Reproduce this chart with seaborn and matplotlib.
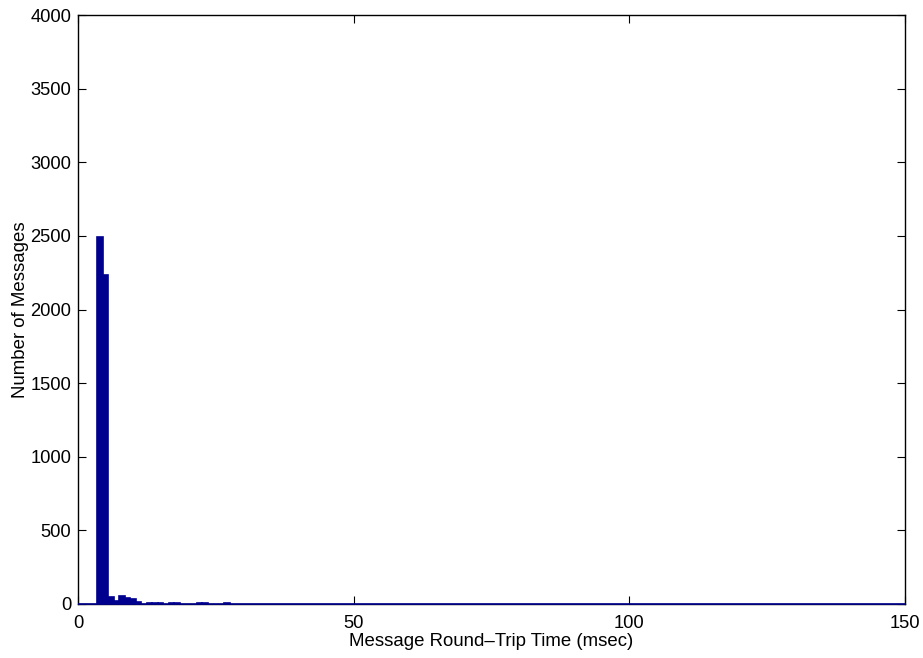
import numpy as np
import pandas as pd
import matplotlib
matplotlib.use("Agg")
import matplotlib.pyplot as plt
from matplotlib.transforms import Bbox, TransformedBbox
import seaborn as sns

# Histogram: bin centres (msec) and message counts
bin_centers = list(range(0, 151))
nonzero_bins = [4, 5, 6, 7, 8, 9, 10, 11, 12, 13, 14, 15, 16, 17, 18, 19, 20,
                21, 22, 23, 24, 25, 26, 27, 28, 30, 33, 36, 40, 45]
nonzero_counts = [2490, 2235, 45, 22, 54, 40, 36, 14, 3, 5, 5, 4, 3, 8, 10, 3, 2,
                  3, 8, 8, 2, 2, 2, 5, 2, 1, 1, 1, 1, 1]

x_ticks = [0, 50, 100, 150]
y_ticks = list(range(0, 4001, 500))

counts = dict(zip(nonzero_bins, nonzero_counts))
hist_df = pd.DataFrame({
    "rtt": bin_centers,
    "count": [counts.get(b, 0) for b in bin_centers],
})

sns.set_style("white")
plt.rcParams["font.family"] = ["Liberation Sans", "DejaVu Sans"]
plt.rcParams["text.color"] = "black"
plt.rcParams["axes.labelcolor"] = "black"
plt.rcParams["xtick.color"] = "black"
plt.rcParams["ytick.color"] = "black"

fig = plt.figure(figsize=(9.23, 6.58), dpi=100)
ax = fig.add_axes([0.0845, 0.0821, 0.896, 0.895])

sns.histplot(data=hist_df, x="rtt", weights="count",
             binwidth=1, binrange=(-0.5, 150.5), color="#00008F",
             edgecolor="#00008F", linewidth=1.2, alpha=1.0, ax=ax, zorder=3)

# let the zero-height bars show fully on top of the bottom spine
clip = TransformedBbox(Bbox([[0, -0.01], [1, 1]]), ax.transAxes)
for patch in ax.patches:
    patch.set_clip_box(clip)

ax.set_xlim(0, 150)
ax.set_ylim(0, 4000)
ax.set_xticks(x_ticks)
ax.set_yticks(y_ticks)
ax.set_xlabel("Message Round\u2013Trip Time (msec)", fontsize=13.4)
ax.set_ylabel("Number of Messages", fontsize=13.4)
ax.xaxis.labelpad = 1
ax.yaxis.labelpad = 0.5
ax.tick_params(axis="both", direction="in", length=6, width=0.8,
               labelsize=13.2, top=True, right=True, bottom=True, left=True,
               pad=5, color="black", labelcolor="black")
ax.tick_params(axis="x", pad=8)
for spine in ax.spines.values():
    spine.set_visible(True)
    spine.set_color("black")
    spine.set_linewidth(1.0)

fig.savefig("out.png", dpi=100)
